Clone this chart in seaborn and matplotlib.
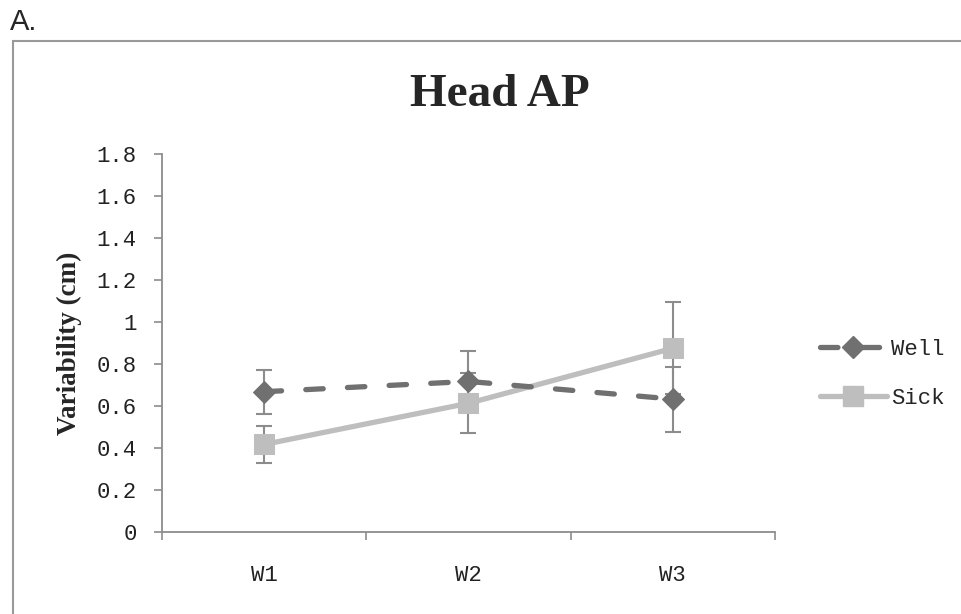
import matplotlib
matplotlib.use("Agg")
import matplotlib.pyplot as plt
import seaborn as sns
import pandas as pd
from matplotlib.patches import Rectangle
from matplotlib.lines import Line2D

weeks = ["W1", "W2", "W3"]
well_mean = [0.668, 0.717, 0.633]
well_err = [0.105, 0.143, 0.155]
sick_mean = [0.417, 0.613, 0.875]
sick_err = [0.09, 0.142, 0.22]
yticks = [0, 0.2, 0.4, 0.6, 0.8, 1.0, 1.2, 1.4, 1.6, 1.8]
ytick_labels = ["0", "0.2", "0.4", "0.6", "0.8", "1", "1.2", "1.4", "1.6", "1.8"]

sns.set_theme(style="white")
plt.rcParams["font.family"] = ["Liberation Mono", "DejaVu Sans"]

fig = plt.figure(figsize=(9.62, 6.14), dpi=100)
ax = fig.add_axes([162/962, 1-532/614, (775-162)/962, (532-154)/614])

df = pd.DataFrame({
    "pos": [0, 1, 2] * 2,
    "val": well_mean + sick_mean,
    "grp": ["Well"] * 3 + ["Sick"] * 3,
})

well_c = "#707070"
sick_c = "#BEBEBE"
err_c = "#8C8C8C"
dash = [3.3, 4.6]

ax.errorbar([0, 1, 2], well_mean, yerr=well_err, fmt="none", ecolor=err_c,
            elinewidth=1.5, capsize=6, capthick=1.5, zorder=2)
ax.errorbar([0, 1, 2], sick_mean, yerr=sick_err, fmt="none", ecolor=err_c,
            elinewidth=1.5, capsize=6, capthick=1.5, zorder=2)

d_well = df[df.grp == "Well"]
d_sick = df[df.grp == "Sick"]
sns.lineplot(data=d_sick, x="pos", y="val", ax=ax, color=sick_c, lw=3.8,
             marker="s", markersize=14, markeredgecolor=sick_c, zorder=3,
             legend=False)
sns.lineplot(data=d_well, x="pos", y="val", ax=ax, color=well_c, lw=3.8,
             marker="D", markersize=11, markeredgecolor=well_c, zorder=4,
             legend=False)
well_line = ax.lines[-1]
well_line.set_dashes(dash)
well_line.set_dash_capstyle("round")

ax.set_xlim(-0.5, 2.5)
ax.set_ylim(0, 1.8)
ax.set_xlabel("")
ax.set_ylabel("Variability (cm)", family="Liberation Serif", fontweight="bold",
              fontsize=19.5, labelpad=11)

ax.set_yticks(yticks)
ax.set_yticklabels(ytick_labels, fontsize=16, color="#222222")
ax.set_xticks([-0.5, 0.5, 1.5, 2.5])
ax.set_xticklabels([])
ax.set_xticks([0, 1, 2], minor=True)
ax.set_xticklabels(weeks, minor=True, fontsize=16, color="#222222")
ax.tick_params(axis="x", which="major", direction="out", length=6, width=1.2,
               color="#8C8C8C", bottom=True)
ax.tick_params(axis="x", which="minor", length=0, pad=24)
ax.tick_params(axis="y", direction="out", length=6, width=1.2,
               color="#8C8C8C", left=True, pad=12)

for s in ["top", "right"]:
    ax.spines[s].set_visible(False)
for s in ["left", "bottom"]:
    ax.spines[s].set_color("#8C8C8C")
    ax.spines[s].set_linewidth(1.3)

fig.text(500/962, 1-95/614, "Head AP", ha="center", va="center",
         family="Liberation Serif", fontweight="bold", fontsize=34)
fig.text(10/962, 1-22/614, "A.", ha="left", va="center",
         family="Liberation Sans", fontsize=21)

fig.patches.append(Rectangle((13/962, -0.05), 1.2, 1-41/614+0.05,
                             transform=fig.transFigure, fill=False,
                             edgecolor="#999999", lw=1.5))

handles = [
    Line2D([], [], color=well_c, lw=3.8, dashes=dash, dash_capstyle="round",
           marker="D", markersize=11, markeredgecolor=well_c),
    Line2D([], [], color=sick_c, lw=3.8, marker="s", markersize=14,
           markeredgecolor=sick_c),
]
fig.legend(handles, ["Well", "Sick"], loc="center left",
           bbox_to_anchor=(800/962, 1-374/614), frameon=False, fontsize=16,
           handlelength=3.0, handletextpad=0.2, labelspacing=1.25)

fig.savefig("out.png", dpi=100, facecolor="white")
